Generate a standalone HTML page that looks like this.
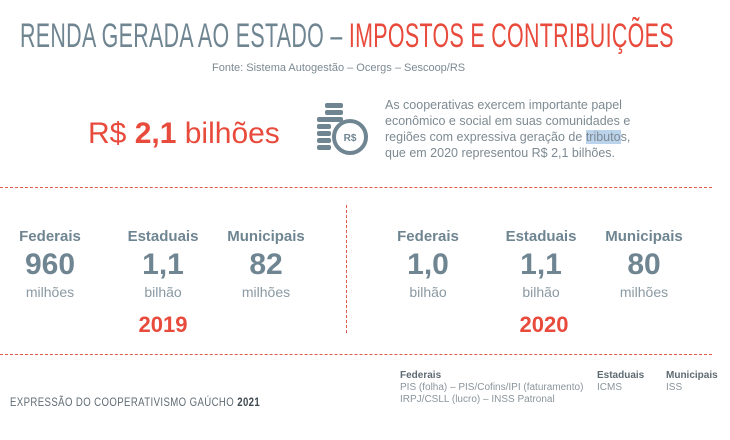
<!DOCTYPE html>
<html><head><meta charset="utf-8"><style>
body{margin:0;width:730px;height:440px;background:#fff;position:relative;overflow:hidden;font-family:"Liberation Sans",sans-serif}
.a{position:absolute;white-space:nowrap}
.g{color:#6f8591}.r{color:#e84a3c}
.c{transform:translateX(-50%);text-align:center}
.lab{font-size:15px;font-weight:bold}
.num{font-size:30px;font-weight:bold;line-height:30px}
.unit{font-size:14px;color:#8a99a2}
.yr{font-size:22px;font-weight:bold}
</style></head><body>
<div class="a" style="left:20px;top:16px;font-size:34px;line-height:40px;transform:scaleX(0.63);transform-origin:0 0;letter-spacing:0.5px"><span class="g">RENDA GERADA AO ESTADO – </span><span class="r">IMPOSTOS E CONTRIBUIÇÕES</span></div>
<div class="a" style="left:212px;top:62px;font-size:11px;color:#7d8a92">Fonte: Sistema Autogestão – Ocergs – Sescoop/RS</div>
<div class="a r" style="left:88px;top:116px;font-size:30px;line-height:36px">R$ <b>2,1</b> bilhões</div>
<svg class="a" style="left:315px;top:98px" width="60" height="60">
<g fill="#6f8591">
<rect x="10" y="5" width="18" height="5" rx="2"/><rect x="10" y="12" width="18" height="5" rx="2"/><rect x="10" y="19" width="18" height="5" rx="2"/>
<rect x="2" y="19" width="14" height="5" rx="2"/><rect x="2" y="26" width="14" height="5" rx="2"/><rect x="2" y="33" width="14" height="5" rx="2"/><rect x="2" y="40" width="14" height="5" rx="2"/><rect x="2" y="47" width="14" height="5" rx="2"/>
</g>
<circle cx="35" cy="39" r="16" fill="#fff" stroke="#6f8591" stroke-width="4"/>
<text x="35" y="43" font-size="10" font-weight="bold" fill="#6f8591" text-anchor="middle" font-family="Liberation Sans">R$</text>
</svg>
<div class="a" style="left:385px;top:97px;font-size:12.5px;line-height:16px;color:#7d8a92">As cooperativas exercem importante papel<br>econômico e social em suas comunidades e<br>regiões com expressiva geração de <span style="background:#bcd3ec">tributo</span>s,<br>que em 2020 representou R$ 2,1 bilhões.</div>
<div class="a" style="left:0;top:187px;width:712px;border-top:1.5px dashed #e05a4c"></div>
<div class="a" style="left:346px;top:205px;height:128px;border-left:1.5px dashed #e05a4c"></div>
<div class="a" style="left:0;top:354px;width:712px;border-top:1.5px dashed #e05a4c"></div>

<div class="a c g lab" style="left:50px;top:228px">Federais</div>
<div class="a c g num" style="left:50px;top:250px">960</div>
<div class="a c unit" style="left:50px;top:284px">milhões</div>
<div class="a c g lab" style="left:163px;top:228px">Estaduais</div>
<div class="a c g num" style="left:163px;top:250px">1,1</div>
<div class="a c unit" style="left:163px;top:284px">bilhão</div>
<div class="a c g lab" style="left:266px;top:228px">Municipais</div>
<div class="a c g num" style="left:266px;top:250px">82</div>
<div class="a c unit" style="left:266px;top:284px">milhões</div>
<div class="a c r yr" style="left:163px;top:312px">2019</div>

<div class="a c g lab" style="left:428px;top:228px">Federais</div>
<div class="a c g num" style="left:428px;top:250px">1,0</div>
<div class="a c unit" style="left:428px;top:284px">bilhão</div>
<div class="a c g lab" style="left:541px;top:228px">Estaduais</div>
<div class="a c g num" style="left:541px;top:250px">1,1</div>
<div class="a c unit" style="left:541px;top:284px">bilhão</div>
<div class="a c g lab" style="left:644px;top:228px">Municipais</div>
<div class="a c g num" style="left:644px;top:250px">80</div>
<div class="a c unit" style="left:644px;top:284px">milhões</div>
<div class="a c r yr" style="left:544px;top:312px">2020</div>

<div class="a" style="left:10px;top:395px;font-size:12px;color:#5f6b72;transform:scaleX(0.8);transform-origin:0 0;letter-spacing:0.5px">EXPRESSÃO DO COOPERATIVISMO GAÚCHO <b style="color:#3e4950">2021</b></div>
<div class="a" style="left:400px;top:370px;font-size:10px;line-height:12px;color:#8a959c"><b style="color:#5f6b72">Federais</b><br>PIS (folha) – PIS/Cofins/IPI (faturamento)<br>IRPJ/CSLL (lucro) – INSS Patronal</div>
<div class="a" style="left:597px;top:370px;font-size:10px;line-height:12px;color:#8a959c"><b style="color:#5f6b72">Estaduais</b><br>ICMS</div>
<div class="a" style="left:666px;top:370px;font-size:10px;line-height:12px;color:#8a959c"><b style="color:#5f6b72">Municipais</b><br>ISS</div>
</body></html>
